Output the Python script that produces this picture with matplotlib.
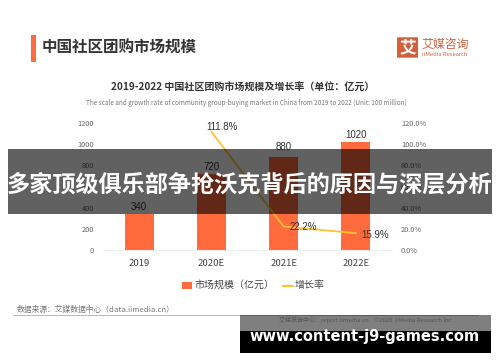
import matplotlib
matplotlib.use('Agg')
import matplotlib.pyplot as plt
from matplotlib.patches import Rectangle, FancyBboxPatch

plt.rcParams['font.family'] = ['Noto Sans CJK SC', 'DejaVu Sans']

W, H = 500, 362

## chart data
years = ['2019', '2020E', '2021E', '2022E']
market = [340, 720, 880, 1020]
growth = [111.8, 22.2, 15.9]
growth_years = ['2020E', '2021E', '2022E']
left_ticks = [0, 200, 400, 600, 800, 1000, 1200]
right_ticks = [0, 20, 40, 60, 80, 100, 120]

ORANGE = '#FF6B3D'
YELLOW = '#FFC233'
TEXT = '#444444'


# pixel coords (y from the top) -> figure fraction
def fx(x):
    return x / W


def fy(y):
    return 1 - y / H


def label(x, y, s, **kw):
    kw.setdefault('va', 'center')
    return fig.text(fx(x), fy(y), s, **kw)


def box(x0, y0, x1, y1, color, alpha=1.0, zorder=10):
    fig.add_artist(Rectangle((fx(x0), fy(y1)), (x1 - x0) / W, (y1 - y0) / H,
                             transform=fig.transFigure, facecolor=color,
                             edgecolor='none', alpha=alpha, zorder=zorder))


fig = plt.figure(figsize=(W / 100, H / 100), dpi=100, facecolor='white')

ax = fig.add_axes([fx(103), fy(250), 289 / W, 127 / H])
xpos = list(range(len(years)))
ax.bar(xpos, market, width=0.4, color=ORANGE, zorder=2)
ax.set_xlim(-0.5, 3.5)
ax.set_ylim(0, 1200)
ax.set_xticks(xpos)
ax.set_xticklabels(years, fontsize=6.9, color=TEXT)
ax.set_yticks(left_ticks)
ax.set_yticklabels([str(t) for t in left_ticks], fontsize=5.3, color='#666666')
ax.tick_params(axis='both', length=0)
ax.tick_params(axis='x', pad=6.5)
ax.tick_params(axis='y', pad=6.5)
for s in ['top', 'left', 'right']:
    ax.spines[s].set_visible(False)
ax.spines['bottom'].set_color('#EEEEEE')

ax2 = ax.twinx()
gx = [years.index(y) for y in growth_years]
ax2.plot(gx, growth, color=YELLOW, lw=1.3, zorder=3)
ax2.set_ylim(0, 120)
ax2.set_yticks(right_ticks)
ax2.set_yticklabels(['%.1f%%' % t for t in right_ticks], fontsize=5.3, color='#666666')
ax2.tick_params(axis='y', length=0, pad=6.5)
for s in ['top', 'left', 'right', 'bottom']:
    ax2.spines[s].set_visible(False)

# data labels
label_lift = [1.5, 1.5, 3.5, 1.5]
for x, v, lift in zip(xpos, market, label_lift):
    ax.annotate(str(v), (x, v), xytext=(0, lift), textcoords='offset points', ha='center',
                va='bottom', fontsize=7, color='#333333', family='Liberation Sans')
offsets = [(8, 0), (14, 0), (14, -1)]
for x, v, off in zip(gx, growth, offsets):
    ax2.annotate('%.1f%%' % v, (x, v), xytext=off, textcoords='offset points', ha='center',
                 va='bottom' if x == gx[0] else 'center', fontsize=7, color='#333333',
                 family='Liberation Sans')

# heading
box(31, 35, 36, 62, ORANGE)
label(42, 48, '中国社区团购市场规模', fontsize=11.2, color='#333333', ha='left', fontweight='bold')
fig.add_artist(FancyBboxPatch((fx(398), fy(57)), 19 / W, 19 / H, boxstyle='round,pad=0.002',
                              transform=fig.transFigure, facecolor='#D2603C', edgecolor='none'))
label(407.5, 47.5, '艾', fontsize=12, color='white', ha='center', fontweight='bold')
label(421, 44, '艾媒咨询', fontsize=8.6, color='#D2603C', ha='left', fontweight='medium')
label(422, 54, 'iiMedia Research', fontsize=4.2, color='#D2603C', ha='left')

# chart title
label(243, 88, '2019-2022 中国社区团购市场规模及增长率（单位：亿元）', fontsize=7.2,
      color='#333333', ha='center', fontweight='bold')
label(246, 103, 'The scale and growth rate of community group-buying market in China from 2019 to 2022 (Unit: 100 million)',
      fontsize=4.6, color='#777777', ha='center')

# legend
box(182, 282, 192, 289, ORANGE)
label(194, 285, '市场规模（亿元）', fontsize=7.2, color=TEXT, ha='left')
box(282, 284.5, 294, 286.5, YELLOW)
label(295, 285, '增长率', fontsize=7.2, color=TEXT, ha='left')

# source + footer
label(17, 310, '数据来源：艾媒数据中心（data.iimedia.cn）', fontsize=5.6, color='#777777', ha='left')
box(13, 315, 479, 316, '#BBBBBB', zorder=3)

# site overlays
box(8, 149, 492, 214, '#000000', alpha=0.62, zorder=10)
label(250, 185, '多家顶级俱乐部争抢沃克背后的原因与深层分析', fontsize=16.7, color='white',
      ha='center', fontweight='bold', zorder=11)
box(240, 315, 491, 331, '#000000', alpha=0.5, zorder=10)
label(279, 320, '艾媒报告中心：report.iimedia.cn    ©2020  iiMedia Research Inc', fontsize=4.3,
      color='#555555', ha='left', zorder=11)
box(240, 331, 491, 353, '#000000', zorder=10)
label(364.5, 336.5, 'www.content-j9-games.com', fontsize=10.5, color='white', ha='center',
      fontweight='bold', family='DejaVu Sans', zorder=11)

fig.savefig('out.png', dpi=100)
